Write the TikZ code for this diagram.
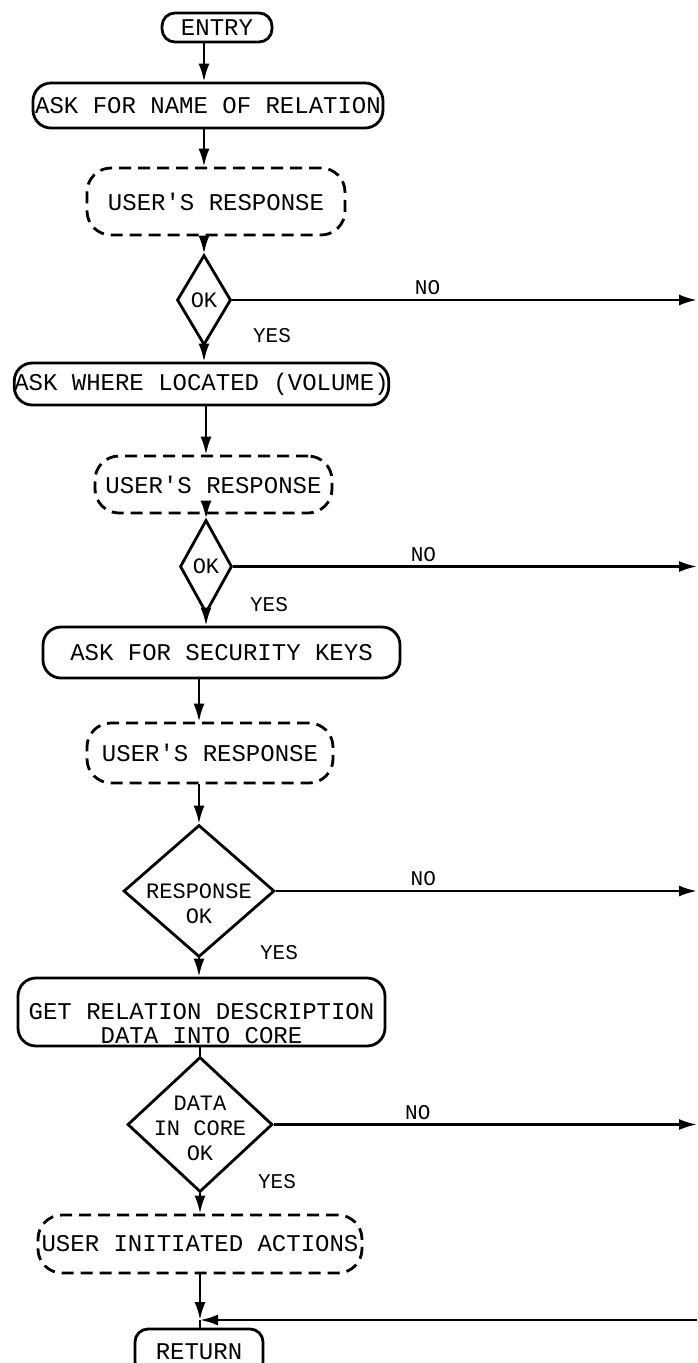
\documentclass[tikz,border=0pt]{standalone}
\usepackage{fontspec}
\newfontfamily\tw{Liberation Mono}
\usetikzlibrary{shapes.geometric,arrows.meta}
\tikzset{
  boxbase/.style={draw, line width=2.8pt, rounded corners=18pt, inner sep=0pt, align=center,
    font=\tw\fontsize{24}{25}\selectfont},
  procbox/.style={boxbase},
  termbox/.style={boxbase, rounded corners=13pt},
  iobox/.style={boxbase, rounded corners=24pt, dash pattern=on 12pt off 7pt},
  decbox/.style={draw, diamond, line width=2.8pt, inner sep=0pt},
  dectext/.style={align=center, font=\tw\fontsize{22}{25}\selectfont},
  lbl/.style={font=\tw\fontsize{21}{22}\selectfont, inner sep=1pt},
  arr/.style={line width=2.4pt, -{Latex[length=18pt,width=11pt]}},
  ln/.style={line width=2.4pt}
}
\begin{document}
\begin{tikzpicture}[x=1pt,y=-1pt]
\useasboundingbox (0,0) rectangle (697,1363);
% nodes
\node[termbox, minimum width=110pt, minimum height=29pt] (entry) at (217,27.5) {ENTRY};
\node[procbox, minimum width=350pt, minimum height=45pt] (ask1) at (208,105.5) {ASK FOR NAME OF RELATION};
\node[iobox, minimum width=258pt, minimum height=67pt] (ur1) at (216,201.5) {USER'S RESPONSE};
\node[decbox, minimum width=54pt, minimum height=90pt] (ok1) at (204,300) {};
\node[dectext] (ok1t) at (ok1) {OK};
\node[procbox, minimum width=373pt, minimum height=42pt] (ask2) at (201.5,384) {ASK WHERE LOCATED (VOLUME)};
\node[iobox, minimum width=237pt, minimum height=57pt] (ur2) at (213.5,484.5) {USER'S RESPONSE};
\node[decbox, minimum width=52pt, minimum height=93pt] (ok2) at (206,566.5) {};
\node[dectext] (ok2t) at (ok2) {OK};
\node[procbox, minimum width=357pt, minimum height=51pt] (ask3) at (221.5,652.5) {ASK FOR SECURITY KEYS};
\node[iobox, minimum width=246pt, minimum height=60pt] (ur3) at (210,753) {USER'S RESPONSE};
\node[decbox, minimum width=151pt, minimum height=132pt] (ok3) at (199,891) {};
\node[dectext] (ok3t) at (199,904) {RESPONSE\\OK};
\node[procbox, minimum width=367pt, minimum height=68pt] (get) at (201.5,1012) {};
\node[dectext, font=\tw\fontsize{24}{24}\selectfont] (gett) at (201.5,1024) {GET RELATION DESCRIPTION\\DATA INTO CORE};
\node[decbox, minimum width=145pt, minimum height=135pt] (ok4) at (200,1124.5) {};
\node[dectext] (ok4t) at (200,1128) {DATA\\IN CORE\\OK};
\node[iobox, minimum width=324pt, minimum height=58pt] (uia) at (200,1244) {USER INITIATED ACTIONS};
\node[termbox, minimum width=128pt, minimum height=46pt] (ret) at (199,1352) {RETURN};
% exits
\coordinate (x1) at (697,300);
\coordinate (x2) at (697,566.5);
\coordinate (x3) at (697,891);
\coordinate (x4) at (697,1124.5);
\coordinate (rin) at (697,1320);
\coordinate (j) at (200,1320);
% connectors
\draw[arr] (entry.south -| ok1.north) -- (ask1.north -| ok1.north);
\draw[arr] (ask1.south -| ok1.north) -- (ur1.north -| ok1.north);
\draw[arr] (ur1.south -| ok1.north) -- (ok1.north);
\draw[arr] (ok1.south) -- (ask2.north -| ok1.south);
\draw[arr] (ask2.south -| ok2.north) -- (ur2.north -| ok2.north);
\draw[arr] (ur2.south -| ok2.north) -- (ok2.north);
\draw[arr] (ok2.south) -- (ask3.north -| ok2.south);
\draw[arr] (ask3.south -| ok3.north) -- (ur3.north -| ok3.north);
\draw[arr] (ur3.south -| ok3.north) -- (ok3.north);
\draw[arr] (ok3.south) -- (get.north -| ok3.south);
\draw[ln] (get.south -| ok4.north) -- (ok4.north);
\draw[arr] (ok4.south) -- (uia.north -| ok4.south);
\draw[arr] (uia.south -| j) -- (j);
\draw[ln] (j) -- (ret.north -| j);
\draw[arr] (rin) -- (j);
\draw[arr] (ok1.east) -- node[lbl, pos=0.42, above=3pt] (no1) {NO} (x1);
\draw[arr] (ok2.east) -- node[lbl, pos=0.41, above=3pt] (no2) {NO} (x2);
\draw[arr] (ok3.east) -- node[lbl, pos=0.35, above=3pt] (no3) {NO} (x3);
\draw[arr] (ok4.east) -- node[lbl, pos=0.34, above=3pt] (no4) {NO} (x4);
% yes labels
\node[lbl] (yes1) at (272,336) {YES};
\node[lbl] (yes2) at (269,605) {YES};
\node[lbl] (yes3) at (279,953) {YES};
\node[lbl] (yes4) at (277,1182) {YES};
\end{tikzpicture}
\end{document}
